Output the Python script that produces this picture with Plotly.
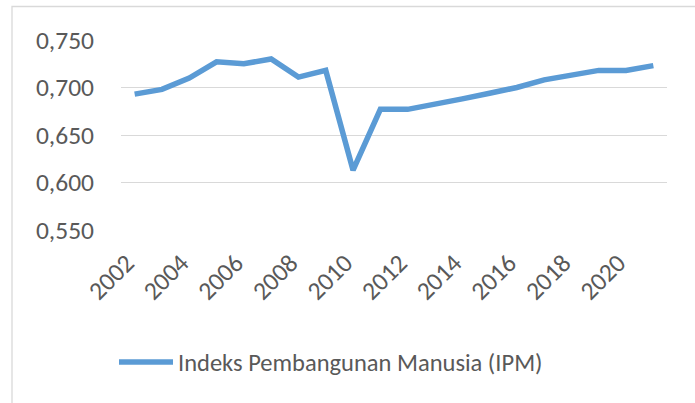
import plotly.graph_objects as go

years = [str(y) for y in range(2002, 2022)]
ipm = [0.693, 0.698, 0.710, 0.727, 0.725, 0.730, 0.711, 0.718, 0.613, 0.677,
       0.677, 0.682, 0.688, 0.694, 0.700, 0.708, 0.713, 0.718, 0.718, 0.723]
tick_years = [str(y) for y in range(2002, 2021, 2)]
series_name = "Indeks Pembangunan Manusia (IPM)"

FONT = "Carlito, Calibri, Lato, sans-serif"
GRAY = "#595959"

fig = go.Figure()
fig.add_trace(go.Scatter(
    x=years, y=ipm, mode="lines", name=series_name,
    line=dict(color="#5B9BD5", width=5.5),
))

W, H = 695, 403
L, R, T, B = 121, 667, 40, 230

def px_x(p):
    return (p - L) / (R - L)

def px_y(p):
    return (B - p) / (B - T)

fig.add_shape(type="rect", xref="paper", yref="paper",
              x0=px_x(12), x1=px_x(700), y0=px_y(410), y1=px_y(6.5),
              line=dict(color="#D9D9D9", width=1.3), fillcolor="rgba(0,0,0,0)",
              layer="below")

fig.update_layout(
    width=W, height=H,
    margin=dict(l=L, r=W - R, t=T, b=H - B, autoexpand=False),
    paper_bgcolor="white", plot_bgcolor="white",
    separators=",.",
    font=dict(family=FONT, color=GRAY, size=25),
    showlegend=True,
    legend=dict(orientation="h", x=px_x(114), xanchor="left",
                y=px_y(362), yanchor="middle",
                font=dict(family=FONT, size=24.5, color=GRAY),
                itemwidth=54, bgcolor="rgba(0,0,0,0)"),
    xaxis=dict(type="category", tickmode="array", tickvals=tick_years,
               ticktext=tick_years, tickangle=-45, showgrid=False,
               showline=False, ticks="", zeroline=False, automargin=False,
               ticklabelstandoff=12, ticklabelshift=-8,
               tickfont=dict(family=FONT, size=25.5, color=GRAY),
               range=[-0.5, len(years) - 0.5]),
    yaxis=dict(range=[0.55, 0.75], tickvals=[0.55, 0.6, 0.65, 0.7, 0.75],
               tickformat=".3f", showgrid=True, gridcolor="#D9D9D9",
               gridwidth=1.3, zeroline=False, showline=False, ticks="",
               ticklabelstandoff=26, automargin=False,
               tickfont=dict(family=FONT, size=25.5, color=GRAY)),
)

fig.write_html("out.html", config={"displayModeBar": False},
               post_script="document.body.style.margin='0';document.body.style.overflow='hidden';")
